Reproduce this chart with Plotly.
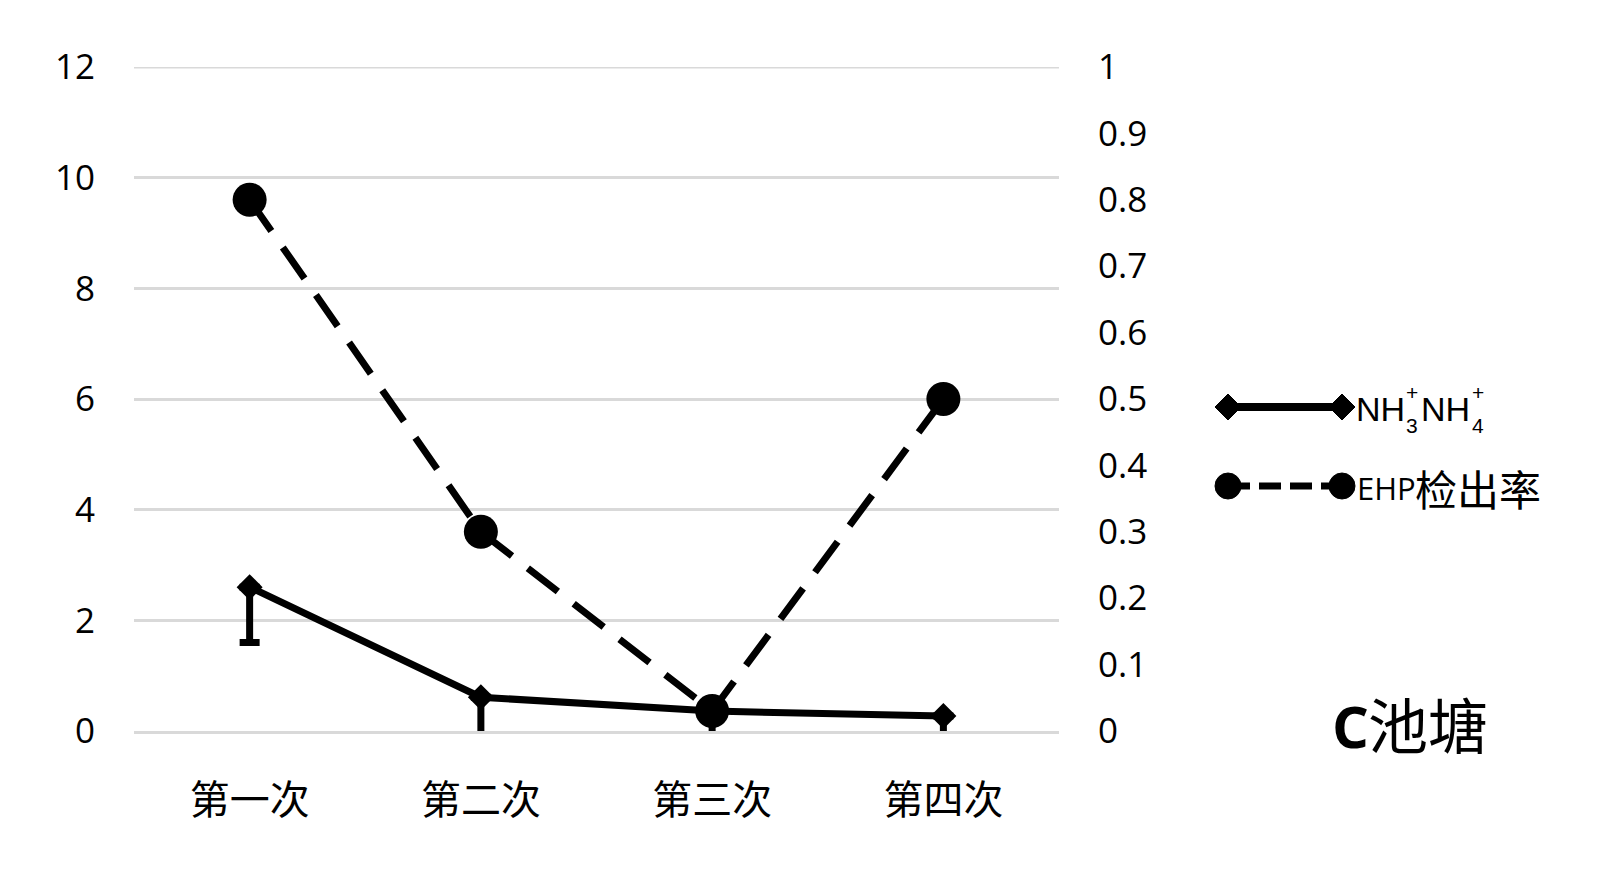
import plotly.graph_objects as go

# ---- data ----
categories = ["第一次", "第二次", "第三次", "第四次"]
nh_values = [2.6, 0.61, 0.36, 0.27]
nh_err_minus = [1.0, 0.8, 0.5, 0.4]
ehp_values = [0.8, 0.3, 0.03, 0.5]
left_ticks = [0, 2, 4, 6, 8, 10, 12]
right_ticks = [0, 0.1, 0.2, 0.3, 0.4, 0.5, 0.6, 0.7, 0.8, 0.9, 1]
right_labels = ["0", "0.1", "0.2", "0.3", "0.4", "0.5", "0.6", "0.7", "0.8", "0.9", "1"]

# ---- layout geometry (page pixels; the page body adds an 8px offset) ----
OFF = 8
W, H = 1600, 884
PL, PR, PT, PB = 134, 1059, 67, 731          # desired plot box on the page
L, T = PL - OFF, PT - OFF
R = W - (PR - OFF)
B = H - (PB - OFF)
PW, PH = PR - PL, PB - PT

def px(x):
    return (x - PL) / PW

def py(y):
    return (PB - y) / PH

NUM_FONT = "Open Sans"
CJK_FONT = "Noto Sans CJK SC"
GRID = "#d9d9d9"

fig = go.Figure()

fig.add_trace(go.Scatter(
    x=categories, y=nh_values, name="NH3+NH4+",
    mode="lines+markers",
    line=dict(color="black", width=7),
    marker=dict(symbol="diamond", size=20, color="black"),
    error_y=dict(type="data", symmetric=False, array=[0, 0, 0, 0],
                 arrayminus=nh_err_minus, color="black", thickness=7, width=10),
    yaxis="y", showlegend=False,
))
fig.add_trace(go.Scatter(
    x=categories, y=ehp_values, name="EHP检出率",
    mode="lines+markers",
    line=dict(color="black", width=7, dash="38px,20px"),
    marker=dict(symbol="circle", size=34, color="black"),
    yaxis="y2", showlegend=False,
))

shapes = []
# top gridline (plotly omits the gridline sitting on the plot edge)
shapes.append(dict(type="line", xref="paper", yref="y", x0=0, x1=1,
                   y0=left_ticks[-1], y1=left_ticks[-1],
                   line=dict(color=GRID, width=3), layer="below"))

# ---- custom legend (decoration) ----
def sx(x):
    return x - PR

def sy(y):
    return PB - y

def pix_shape(**kw):
    d = dict(xref="paper", yref="paper", xsizemode="pixel", ysizemode="pixel",
             xanchor=1, yanchor=0)
    d.update(kw)
    return d

ry1 = 407
shapes.append(pix_shape(type="line", x0=sx(1228), x1=sx(1342), y0=sy(ry1), y1=sy(ry1),
                        line=dict(color="black", width=8)))
for cx in (1228, 1342):
    r = 13
    path = (f"M {sx(cx - r)} {sy(ry1)} L {sx(cx)} {sy(ry1 - r)} "
            f"L {sx(cx + r)} {sy(ry1)} L {sx(cx)} {sy(ry1 + r)} Z")
    shapes.append(pix_shape(type="path", path=path, fillcolor="black",
                            line=dict(color="black", width=1)))
ry2 = 486
shapes.append(pix_shape(type="line", x0=sx(1228), x1=sx(1342), y0=sy(ry2), y1=sy(ry2),
                        line=dict(color="black", width=7, dash="22px,9px")))
for cx in (1228, 1342):
    r = 13
    shapes.append(pix_shape(type="circle", x0=sx(cx - r), x1=sx(cx + r),
                            y0=sy(ry2 - r), y1=sy(ry2 + r), fillcolor="black",
                            line=dict(color="black", width=1)))

annotations = []

def ann(text, x, y, size, family, xanchor="left", bold=False):
    annotations.append(dict(
        text=f"<b>{text}</b>" if bold else text,
        x=px(x), y=py(y), xref="paper", yref="paper",
        xanchor=xanchor, yanchor="middle", showarrow=False,
        font=dict(size=size, family=family, color="black"),
    ))

ann("NH", 1354, 409, 34, "Liberation Sans")
ann("+", 1404, 392, 21, "Liberation Sans")
ann("3", 1404, 425, 21, "Liberation Sans")
ann("NH", 1419, 409, 34, "Liberation Sans")
ann("+", 1470, 392, 21, "Liberation Sans")
ann("4", 1470, 425, 21, "Liberation Sans")
ann("EHP", 1355, 488, 31, NUM_FONT)
ann("检出率", 1413, 487, 42, CJK_FONT)
ann("C", 1330, 725, 58, NUM_FONT, bold=True)
ann("池塘", 1366, 722, 60, CJK_FONT)

fig.update_layout(
    width=W, height=H,
    margin=dict(l=L, r=R, t=T, b=B, autoexpand=False),
    paper_bgcolor="white", plot_bgcolor="white",
    shapes=shapes, annotations=annotations,
    xaxis=dict(
        type="category", categoryorder="array", categoryarray=categories,
        range=[-0.5, 3.5],
        showgrid=False, zeroline=False,
        showline=True, linecolor=GRID, linewidth=3,
        ticks="", ticklabelstandoff=32,
        tickfont=dict(size=40, family=CJK_FONT, color="black"),
    ),
    yaxis=dict(
        range=[0, 12], tickvals=left_ticks,
        showgrid=True, gridcolor=GRID, gridwidth=3,
        zeroline=False, showline=False, ticks="",
        ticklabelstandoff=38,
        tickfont=dict(size=35, family=NUM_FONT, color="black"),
    ),
    yaxis2=dict(
        range=[0, 1], tickvals=right_ticks, ticktext=right_labels,
        overlaying="y", side="right",
        showgrid=False, zeroline=False, showline=False, ticks="",
        ticklabelstandoff=38,
        tickfont=dict(size=35, family=NUM_FONT, color="black"),
    ),
)

fig.write_html("out.html")
